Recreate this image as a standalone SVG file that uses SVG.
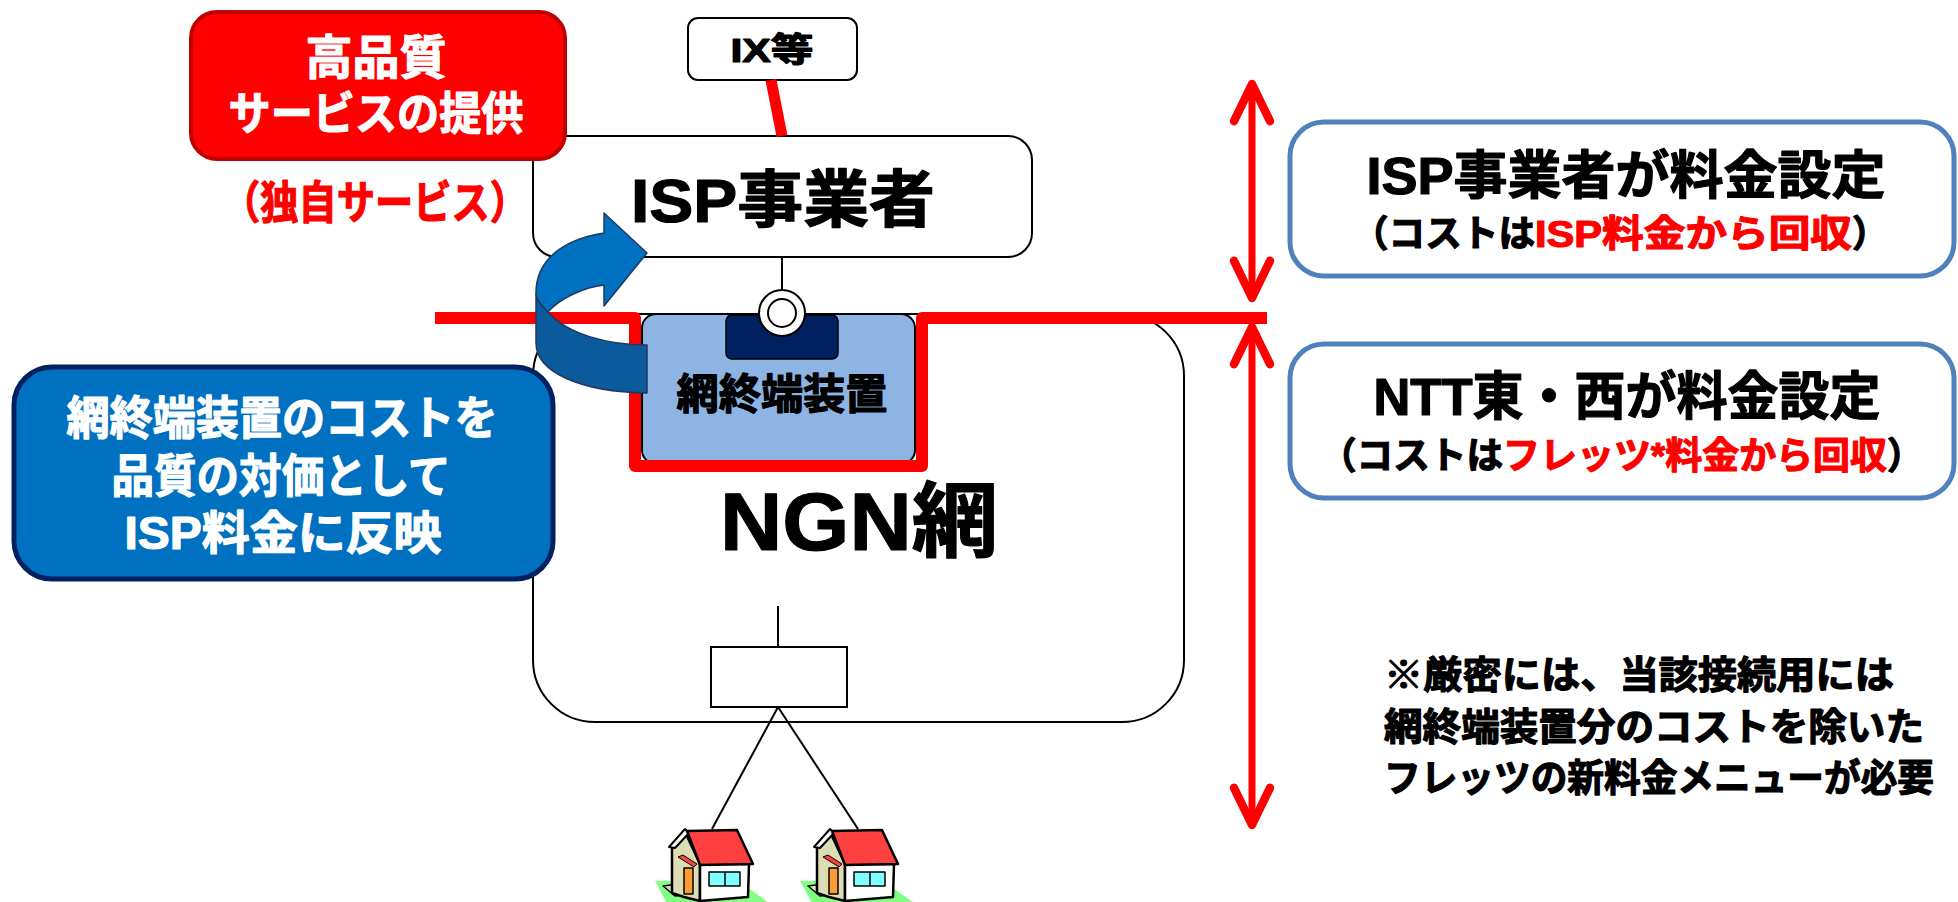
<svg xmlns="http://www.w3.org/2000/svg" width="1958" height="902" viewBox="0 0 1958 902">
  <style>
    .t { font-family: "Liberation Sans", "Noto Sans CJK JP", sans-serif; font-weight: bold; stroke-width: 1.2px; stroke-linejoin: round; }
    .c { text-anchor: middle; }
    .w { fill: #ffffff; stroke: #ffffff; }
    .k { fill: #000000; stroke: #000000; }
    .r { fill: #ff0000; stroke: #ff0000; }
    .box { fill: #ffffff; stroke: #000000; stroke-width: 2; }
    .fee { fill: #ffffff; stroke: #4f81bd; stroke-width: 5; }
    .wire { stroke: #000000; stroke-width: 2; fill: none; }
    .span { stroke: #ff0000; stroke-width: 7; stroke-linecap: round; fill: none; }
    .ln { stroke: #000; stroke-linejoin: round; }
  </style>
  <defs>
    <marker id="openhead" markerUnits="userSpaceOnUse" orient="auto-start-reverse" refX="0" refY="0" markerWidth="60" markerHeight="60" viewBox="-40 -25 50 50" overflow="visible">
      <path d="M -31,-15 L 0,0 L -31,15" fill="none" stroke="#ff0000" stroke-width="7" stroke-linecap="round" stroke-linejoin="round"/>
    </marker>
    <g id="house">
      <polygon points="655,881 738,881 772,905 668,905" fill="#80ff80"/>
      <polygon class="ln" points="663,886 678,884 690,894 675,896" fill="#ddddb5" stroke-width="1.5"/>
      <polygon class="ln" points="672,848 686,834 700,864 700,901 684,897 672,893" fill="#ddddb5" stroke-width="2.5"/>
      <rect class="ln" x="684" y="868" width="9" height="26" fill="#ff9933" stroke-width="1.5"/>
      <polygon class="ln" points="678,857 683,855 697,864 694,867" fill="#ff4040" stroke-width="1"/>
      <polygon class="ln" points="700,864 749,864 748,897 700,901" fill="#ffffff" stroke-width="2.5"/>
      <rect class="ln" x="709" y="872" width="31" height="14" fill="#80ffff" stroke-width="1.5"/>
      <line class="ln" x1="725" y1="872" x2="725" y2="886" stroke-width="1.5"/>
      <polygon class="ln" points="669,847 685,829 689,833 675,848" fill="#ffffff" stroke-width="2"/>
      <polygon class="ln" points="687,831 737,830 753,864 700,865" fill="#ff4040" stroke-width="2.5"/>
    </g>
  </defs>

  <rect width="1958" height="902" fill="#ffffff"/>

  <!-- NGN network -->
  <g id="ngn">
    <rect class="box" x="533" y="314" width="651" height="408" rx="62"/>
    <text class="t c k" x="859" y="550" font-size="82" textLength="278" lengthAdjust="spacingAndGlyphs">NGN網</text>
    <rect class="box" x="711" y="647" width="136" height="60"/>
  </g>

  <!-- ISP operator -->
  <g id="isp">
    <rect class="box" x="533" y="136" width="499" height="121" rx="24"/>
    <text class="t c k" x="783" y="222" font-size="62" textLength="304" lengthAdjust="spacingAndGlyphs">ISP事業者</text>
  </g>

  <!-- IX -->
  <g id="ix">
    <rect class="box" x="688" y="18" width="169" height="62" rx="10"/>
    <text class="t c k" x="772" y="62" font-size="34" textLength="83" lengthAdjust="spacingAndGlyphs">IX等</text>
  </g>

  <!-- connectors -->
  <g id="connectors">
    <line x1="771" y1="80" x2="782" y2="136" stroke="#ff0000" stroke-width="11"/>
    <line class="wire" x1="782" y1="257" x2="782" y2="291"/>
    <line class="wire" x1="778" y1="606" x2="778" y2="647"/>
    <line class="wire" x1="778" y1="707" x2="712" y2="829"/>
    <line class="wire" x1="778" y1="707" x2="858" y2="829"/>
  </g>

  <!-- network termination unit -->
  <g id="terminal">
    <rect x="642" y="314" width="273" height="150" rx="14" fill="#8eb4e3" stroke="#000" stroke-width="2"/>
    <rect x="726" y="315" width="112" height="44" rx="6" fill="#002060" stroke="#000" stroke-width="1.5"/>
    <circle cx="782" cy="313" r="23" fill="#ffffff" stroke="#000" stroke-width="2"/>
    <circle cx="782" cy="313" r="14" fill="#ffffff" stroke="#000" stroke-width="2"/>
    <text class="t c k" x="782" y="409" font-size="42" textLength="211" lengthAdjust="spacingAndGlyphs">網終端装置</text>
  </g>

  <!-- boundary line between ISP and NGN charging -->
  <g id="boundary">
    <path d="M 435,318 H 635 V 466 H 922 V 318 H 1267" fill="none" stroke="#ff0000" stroke-width="12" stroke-linejoin="round"/>
  </g>

  <!-- curved blue arrow -->
  <g id="curved-arrow" stroke="#1f3864" stroke-width="1.5" stroke-linejoin="round">
    <path d="M 536,295 C 537,300 542,306 548,312 C 568,335 610,345 647,345 L 647,393 C 580,392 536,372 536,343 Z" fill="#0b5a9b"/>
    <path d="M 536,295 C 535,262 560,240 604,233 L 604,213 L 647,253 L 604,306 L 604,285 C 585,287 560,298 548,312 C 542,306 537,300 536,295 Z" fill="#0070c0"/>
  </g>

  <!-- high quality service -->
  <g id="quality">
    <rect x="191" y="12" width="374" height="147" rx="26" fill="#ff0000" stroke="#c00000" stroke-width="4"/>
    <text class="t c w" x="376" y="74" font-size="47" textLength="141" lengthAdjust="spacingAndGlyphs">高品質</text>
    <text class="t c w" x="376" y="130" font-size="45" textLength="295" lengthAdjust="spacingAndGlyphs">サービスの提供</text>
    <text class="t c r" x="375" y="219" font-size="45" textLength="306" lengthAdjust="spacingAndGlyphs">（独自サービス）</text>
  </g>

  <!-- cost reflected in ISP fee -->
  <g id="cost-note">
    <rect x="14" y="367" width="539" height="212" rx="38" fill="#0070c0" stroke="#002060" stroke-width="5"/>
    <text class="t c w" x="282" y="434" font-size="46" textLength="431" lengthAdjust="spacingAndGlyphs">網終端装置のコストを</text>
    <text class="t c w" x="281" y="492" font-size="46" textLength="339" lengthAdjust="spacingAndGlyphs">品質の対価として</text>
    <text class="t c w" x="283" y="549" font-size="46" textLength="317" lengthAdjust="spacingAndGlyphs">ISP料金に反映</text>
  </g>

  <!-- charging span arrows -->
  <g id="spans">
    <line class="span" x1="1252" y1="84" x2="1252" y2="298" marker-start="url(#openhead)" marker-end="url(#openhead)"/>
    <line class="span" x1="1252" y1="327" x2="1252" y2="825" marker-start="url(#openhead)" marker-end="url(#openhead)"/>
  </g>

  <!-- ISP charging -->
  <g id="isp-fee">
    <rect class="fee" x="1290" y="122" width="664" height="154" rx="34"/>
    <text class="t c k" x="1626" y="194" font-size="52" textLength="519" lengthAdjust="spacingAndGlyphs">ISP事業者が料金設定</text>
    <text class="t k" x="1352" y="247" font-size="37" textLength="183" lengthAdjust="spacingAndGlyphs">（コストは</text>
    <text class="t r" x="1535" y="247" font-size="37" textLength="317" lengthAdjust="spacingAndGlyphs">ISP料金から回収</text>
    <text class="t k" x="1852" y="247" font-size="37" textLength="36" lengthAdjust="spacingAndGlyphs">）</text>
  </g>

  <!-- NTT charging -->
  <g id="ntt-fee">
    <rect class="fee" x="1290" y="344" width="664" height="154" rx="34"/>
    <text class="t c k" x="1627" y="415" font-size="52" textLength="507" lengthAdjust="spacingAndGlyphs">NTT東・西が料金設定</text>
    <text class="t k" x="1320" y="469" font-size="37" textLength="183" lengthAdjust="spacingAndGlyphs">（コストは</text>
    <text class="t r" x="1503" y="469" font-size="37" textLength="384" lengthAdjust="spacingAndGlyphs">フレッツ*料金から回収</text>
    <text class="t k" x="1887" y="469" font-size="37" textLength="36" lengthAdjust="spacingAndGlyphs">）</text>
  </g>

  <!-- footnote -->
  <g id="footnote">
    <text class="t k" x="1384" y="688" font-size="38" textLength="510" lengthAdjust="spacingAndGlyphs">※厳密には、当該接続用には</text>
    <text class="t k" x="1384" y="740" font-size="38" textLength="540" lengthAdjust="spacingAndGlyphs">網終端装置分のコストを除いた</text>
    <text class="t k" x="1384" y="791" font-size="38" textLength="550" lengthAdjust="spacingAndGlyphs">フレッツの新料金メニューが必要</text>
  </g>

  <!-- subscriber homes -->
  <g id="homes">
    <use href="#house"/>
    <use href="#house" transform="translate(145,0)"/>
  </g>
</svg>
